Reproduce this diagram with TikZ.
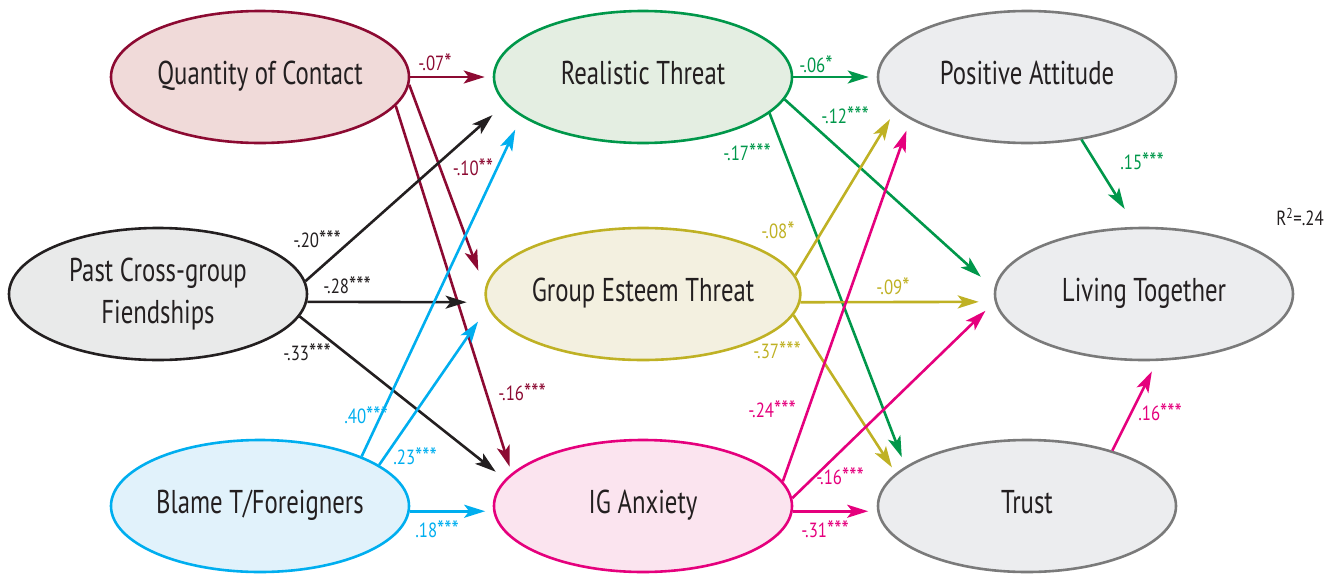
\documentclass[tikz,border=0pt]{standalone}
\usepackage{fontspec}
\setmainfont{PT Sans}
\newfontfamily\nodefont[FakeStretch=0.75]{PT Sans}
\newfontfamily\labfont[FakeStretch=0.82]{PT Sans}
\usetikzlibrary{shapes.geometric,arrows.meta,calc}
\definecolor{dred}{HTML}{8C0A32}
\definecolor{grn}{HTML}{00974A}
\definecolor{cyn}{HTML}{00AEEF}
\definecolor{olv}{HTML}{BFB124}
\definecolor{mag}{HTML}{E5007D}
\definecolor{gry}{HTML}{7A7A7A}
\definecolor{blk}{HTML}{231F20}
\definecolor{qfill}{HTML}{F0DAD9}
\definecolor{rfill}{HTML}{E4EEE2}
\definecolor{gfill}{HTML}{ECEDEF}
\definecolor{pfill}{HTML}{E9EAEA}
\definecolor{efill}{HTML}{F3F0E0}
\definecolor{bfill}{HTML}{E1F2FB}
\definecolor{ifill}{HTML}{FBE4EF}
\newcommand{\up}[1]{\raisebox{8pt}{#1}}
\newcommand{\stars}[1]{\raisebox{-1.5pt}{\fontsize{25}{20}\selectfont #1}}
\begin{document}
\begin{tikzpicture}[x=1pt,y=-1pt,
  latent/.style={ellipse, draw, line width=2.6pt, minimum width=298pt, minimum height=132pt,
    inner sep=0pt, font=\nodefont\fontsize{33}{42}\selectfont, text=blk, align=center},
  pth/.style={line width=2.6pt, -{Stealth[length=21pt,width=13pt,inset=5pt]}},
  coef/.style={font=\labfont\fontsize{20.5}{22}\selectfont, inner sep=0pt}
]
\path[use as bounding box] (0,0) rectangle (1344,576);

% latent variables
\node[latent, draw=dred, fill=qfill] (Q) at (260,77) {\up{Quantity of Contact}};
\node[latent, draw=grn, fill=rfill] (RT) at (643,77) {\up{Realistic Threat}};
\node[latent, draw=gry, fill=gfill] (PA) at (1027,77) {\up{Positive Attitude}};
\node[latent, draw=blk, fill=pfill] (P) at (158,294) {\raisebox{-7pt}{\begin{tabular}{@{}c@{}}Past Cross-group\\Fiendships\end{tabular}}};
\node[latent, draw=olv, fill=efill] (G) at (643,294) {\up{Group Esteem Threat}};
\node[latent, draw=gry, fill=gfill] (L) at (1144,294) {\up{Living Together}};
\node[latent, draw=cyn, fill=bfill] (B) at (260,506) {\up{Blame T/Foreigners}};
\node[latent, draw=mag, fill=ifill] (I) at (643,506) {\up{IG Anxiety}};
\node[latent, draw=gry, fill=gfill] (T) at (1027,506) {\up{Trust}};

% paths from Quantity of Contact
\draw[pth, dred, shorten >=8pt] (Q.east) -- (RT.west);
\draw[pth, dred, shorten >=19pt] (Q.-3.9) -- (G.178.2);
\draw[pth, dred, shorten >=7pt] (Q.-12.6) -- (I.166.5);
% paths from Past Cross-group Friendships
\draw[pth, blk, shorten >=17pt] (P.5.4) -- (RT.191.7);
\draw[pth, blk, shorten >=19pt] (P.-3.1) -- (G.183.1);
\draw[pth, blk, shorten >=12pt] (P.-9.4) -- (I.169.5);
% paths from Blame
\draw[pth, cyn, shorten >=14.5pt] (B.26.6) -- (RT.198.6);
\draw[pth, cyn, shorten >=17pt] (B.19.2) -- (G.185.5);
\draw[pth, cyn, shorten >=8pt] (B.-2.3) -- (I.182.3);
% paths from Realistic Threat
\draw[pth, grn, shorten >=8pt] (RT.east) -- (PA.west);
\draw[pth, grn, shorten >=18pt] (RT.-9.2) -- (L.178.5);
\draw[pth, grn, shorten >=10pt] (RT.-16.7) -- (T.162.1);
% paths from Group Esteem Threat
\draw[pth, olv, shorten >=11pt] (G.7.6) -- (PA.194.9);
\draw[pth, olv, shorten >=16pt] (G.-3.1) -- (L.183.1);
\draw[pth, olv, shorten >=7pt] (G.-8.5) -- (T.166);
% paths from IG Anxiety
\draw[pth, mag, shorten >=12pt] (I.10.9) -- (PA.200);
\draw[pth, mag, shorten >=13pt] (I.3.5) -- (L.183.8);
\draw[pth, mag, shorten >=9pt] (I.-2.3) -- (T.182.3);
% to Living Together
\draw[pth, grn, shorten >=21pt] (PA.-49.8) -- (L.97.6);
\draw[pth, mag, shorten >=11.5pt] (T.33) -- (L.-79.6);

% coefficients
\node[coef, text=dred] (c1) at (435,63) {-.07\stars{*}};
\node[coef, text=dred] (c2) at (473,168) {-.10\stars{**}};
\node[coef, text=dred] (c3) at (522,393) {-.16\stars{***}};
\node[coef, text=blk] (c4) at (317,240) {-.20\stars{***}};
\node[coef, text=blk] (c5) at (347,286) {-.28\stars{***}};
\node[coef, text=blk] (c6) at (307,353) {-.33\stars{***}};
\node[coef, text=cyn] (c7) at (366,416) {.40\stars{***}};
\node[coef, text=cyn] (c8) at (415,457) {.23\stars{***}};
\node[coef, text=cyn] (c9) at (437,530) {.18\stars{***}};
\node[coef, text=grn] (c10) at (816,65) {-.06\stars{*}};
\node[coef, text=grn] (c11) at (845,116) {-.12\stars{***}};
\node[coef, text=grn] (c12) at (747,153) {-.17\stars{***}};
\node[coef, text=olv] (c13) at (778,231) {-.08\stars{*}};
\node[coef, text=olv] (c14) at (893,287) {-.09\stars{*}};
\node[coef, text=olv] (c15) at (777,351) {-.37\stars{***}};
\node[coef, text=mag] (c16) at (772,410) {-.24\stars{***}};
\node[coef, text=mag] (c17) at (840,477) {-.16\stars{***}};
\node[coef, text=mag] (c18) at (825,530) {-.31\stars{***}};
\node[coef, text=grn] (c19) at (1142,162) {.15\stars{***}};
\node[coef, text=mag] (c20) at (1160,413) {.16\stars{***}};
\node[coef, text=blk] (r2) at (1300,217) {R\textsuperscript{2}=.24};
\end{tikzpicture}
\end{document}
